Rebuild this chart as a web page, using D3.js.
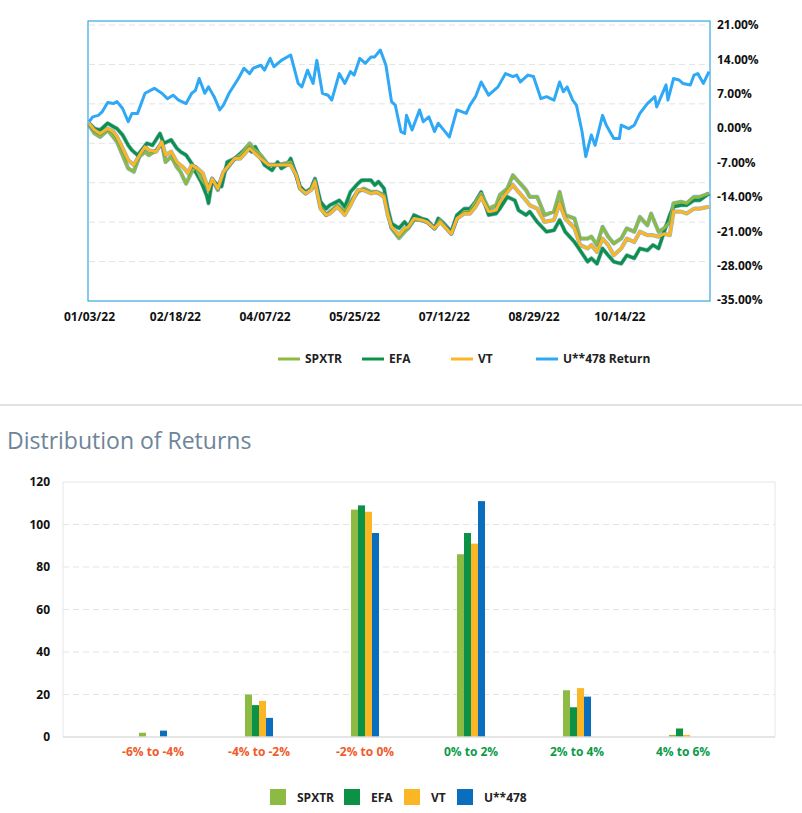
<!DOCTYPE html>
<html><head><meta charset="utf-8">
<script src="https://cdn.jsdelivr.net/npm/d3@7"></script>
<style>body{margin:0;background:#fff;font-family:"Open Sans",sans-serif}</style>
</head><body><svg id="c" width="802" height="813"></svg>
<script>
// ---- line chart data (day offset from 2022-01-03, cumulative return %) ----
const uDays=[0,2,5,7,10,13,15,18,21,23,26,30,35,39,42,45,48,52,55,57,59,62,64,67,70,72,75,80,83,86,88,92,94,97,99,103,108,112,114,117,120,122,125,128,130,134,137,140,142,145,148,151,153,156,159,162,164,167,169,170,173,177,179,182,185,187,190,193,197,202,204,207,210,214,219,223,227,229,231,235,238,242,245,249,252,254,256,259,261,264,266,268,269,271,275,277,281,284,285,289,292,295,299,303,304,309,310,313,316,318,322,324,326,329,332];
const uVals=[1.3,2.3,2.6,3.3,5.2,5.0,5.4,4.0,1.3,3.0,3.0,7.1,8.1,7.1,6.0,6.7,5.7,5.0,7.1,7.7,10.1,7.1,8.4,6.4,3.7,4.7,7.1,10.1,12.2,11.1,12.2,12.8,11.8,14.2,12.5,13.8,14.9,9.1,8.4,11.8,9.1,13.8,7.1,6.7,5.7,11.1,9.1,11.5,10.8,14.2,13.2,14.5,14.5,15.9,12.8,5.4,4.7,-0.7,-1.1,2.6,-0.4,3.7,1.3,2.3,-0.7,1.0,-0.4,-1.8,3.7,3.0,4.7,6.4,9.4,6.7,8.4,11.1,10.5,10.8,9.4,10.8,10.5,6.0,6.4,5.7,9.4,7.4,8.4,5.7,4.7,-0.7,-5.8,-2.8,-1.4,-3.5,2.6,0.6,-2.1,-2.1,0.6,-0.1,0.6,3.0,5.0,6.4,4.3,8.8,5.7,10.1,9.8,9.1,8.8,10.8,11.1,9.1,11.5];
const efaDays=[0,3,6,8,10,13,15,18,21,23,26,29,31,34,38,40,44,47,49,52,55,57,60,63,64,66,69,71,74,78,81,85,87,89,94,98,101,103,106,108,111,113,116,119,121,124,127,129,134,137,140,144,146,151,153,155,158,160,162,166,169,171,174,178,181,185,187,190,194,197,201,204,207,210,214,218,220,224,228,230,234,236,240,245,249,252,255,260,263,267,269,272,275,278,281,285,288,292,295,299,302,305,308,311,313,317,320,324,327,332];
const efaVals=[1.0,-0.1,-0.4,0.3,1.0,0.3,-0.1,-1.4,-3.5,-4.5,-5.5,-4.1,-3.1,-3.5,-1.1,-3.1,-2.4,-4.1,-4.8,-5.5,-7.2,-8.9,-10.9,-13.7,-15.3,-10.6,-11.6,-11.9,-6.9,-6.2,-5.2,-3.8,-4.8,-3.8,-7.5,-8.6,-6.9,-8.2,-7.5,-6.2,-9.6,-11.9,-13.0,-12.3,-10.3,-15.0,-16.4,-15.7,-14.7,-16.0,-13.0,-11.3,-10.6,-10.6,-11.6,-10.9,-12.3,-16.4,-19.4,-20.4,-19.1,-20.1,-17.7,-18.4,-18.7,-20.4,-18.4,-19.4,-21.1,-17.7,-16.4,-16.4,-15.0,-13.0,-17.7,-17.4,-16.4,-14.0,-14.7,-16.7,-17.7,-17.0,-19.1,-21.1,-20.8,-18.7,-21.1,-23.2,-24.9,-27.2,-26.5,-27.6,-24.5,-25.9,-27.2,-27.6,-25.9,-26.5,-24.5,-24.9,-23.8,-24.5,-21.1,-17.7,-16.0,-15.7,-15.7,-14.7,-14.7,-13.3];
const spxDays=[0,3,6,10,13,15,18,21,24,27,30,32,36,39,41,44,47,49,52,55,57,60,64,66,69,72,78,81,86,88,92,96,101,108,111,113,116,119,121,124,127,129,133,137,140,144,147,151,154,158,160,162,166,169,171,174,178,181,185,188,194,197,201,204,207,210,214,218,220,224,227,230,234,236,240,244,249,252,255,260,263,267,269,272,275,278,281,285,288,292,295,299,301,305,308,311,313,317,320,324,327,332];
const spxVals=[0.6,-1.1,-1.8,-0.4,-1.8,-2.8,-5.5,-8.2,-8.9,-5.8,-4.8,-5.5,-4.5,-3.1,-6.9,-5.8,-7.9,-8.9,-11.3,-8.9,-7.9,-10.3,-12.3,-10.3,-12.6,-9.2,-6.2,-5.5,-3.1,-4.1,-5.5,-7.5,-7.5,-6.9,-9.6,-12.3,-13.3,-12.3,-10.6,-16.0,-17.7,-17.0,-15.7,-17.0,-15.0,-13.0,-12.3,-13.0,-13.0,-13.6,-17.0,-20.4,-22.4,-21.1,-20.4,-18.7,-18.7,-19.1,-20.4,-18.7,-21.5,-18.4,-17.0,-17.0,-15.0,-13.3,-16.4,-15.7,-13.6,-12.3,-9.6,-10.9,-12.6,-14.0,-14.0,-17.7,-17.0,-13.0,-17.7,-18.4,-22.5,-22.5,-22.1,-23.8,-20.1,-22.1,-23.5,-22.5,-20.4,-21.1,-18.1,-19.8,-17.4,-21.1,-20.4,-19.1,-15.3,-15.0,-15.3,-14.0,-14.0,-13.3];
const vtDays=[0,3,6,10,13,15,18,21,24,27,30,32,36,39,41,44,47,51,53,55,58,61,64,66,69,72,78,81,86,88,92,96,101,108,111,113,116,119,121,124,127,129,133,137,140,144,147,151,154,158,160,162,166,169,171,174,178,181,185,188,194,197,201,204,207,210,214,218,220,224,227,230,234,236,240,244,249,252,255,260,263,267,269,272,275,278,281,285,288,292,295,299,302,305,308,311,313,317,320,324,327,332];
const vtVals=[1.0,-0.4,-1.1,-0.1,-0.7,-1.8,-4.1,-6.5,-7.5,-5.5,-3.8,-4.5,-4.8,-2.8,-5.5,-4.8,-6.9,-8.2,-9.2,-7.5,-8.2,-9.2,-12.6,-10.3,-12.3,-8.9,-6.2,-6.2,-4.1,-4.8,-6.2,-7.5,-7.5,-7.5,-9.6,-12.3,-13.3,-12.6,-10.9,-16.4,-17.7,-17.4,-16.0,-17.7,-15.7,-12.6,-12.6,-13.3,-13.0,-14.0,-17.7,-20.1,-21.8,-20.4,-20.1,-18.4,-18.7,-19.1,-20.4,-19.1,-21.5,-18.4,-17.4,-17.4,-16.0,-14.0,-17.0,-16.7,-15.0,-13.0,-11.6,-13.0,-14.7,-15.7,-16.4,-19.1,-18.7,-15.3,-18.4,-20.4,-23.8,-24.5,-23.8,-25.2,-22.5,-23.8,-25.9,-24.5,-22.5,-23.2,-21.1,-21.8,-21.8,-22.1,-21.5,-21.8,-17.0,-17.0,-17.4,-16.4,-16.4,-16.0];
const yTicks=[21,14,7,0,-7,-14,-21,-28,-35];
const xTickDates=["2022-01-03","2022-02-18","2022-04-07","2022-05-25","2022-07-12","2022-08-29","2022-10-14"];
const lineNames=["SPXTR","EFA","VT","U**478 Return"];
const lineColors=["#8dba43","#0b9247","#fbb626","#2fa8f6"];
// ---- distribution data ----
const bins=["-6% to -4%","-4% to -2%","-2% to 0%","0% to 2%","2% to 4%","4% to 6%"];
const barNames=["SPXTR","EFA","VT","U**478"];
const barColors=["#8dba43","#0b9247","#fbb626","#0a6ebd"];
const spxCounts=[2,20,107,86,22,1];
const efaCounts=[0,15,109,96,14,4];
const vtCounts=[0,17,106,91,23,1];
const uCounts=[3,9,96,111,19,0];
const barTicks=[0,20,40,60,80,100,120];

const svg=d3.select("#c");
const start=new Date(2022,0,3);
const toDate=d=>d3.timeDay.offset(start,d);
const x=d3.scaleTime().domain([start,toDate(332)]).range([89,709]);
const y=d3.scaleLinear().domain([-35,21]).range([300,25]);
// grid lines
const gy=d3.scaleLinear().domain([0,7]).range([25,301]);
svg.append("g").selectAll("line").data(d3.range(0,7)).join("line")
 .attr("x1",89).attr("x2",709).attr("y1",d=>gy(d)).attr("y2",d=>gy(d))
 .attr("stroke","#e3e3e3").attr("stroke-dasharray","6,4");
svg.append("rect").attr("x",88).attr("y",21).attr("width",622).attr("height",280)
 .attr("fill","none").attr("stroke","#36a9e1").attr("stroke-width",1.2);
const series=[[spxDays,spxVals],[efaDays,efaVals],[vtDays,vtVals],[uDays,uVals]];
const line=d3.line().x(d=>x(d[0])).y(d=>y(d[1]));
const order=[1,0,2,3];
order.forEach(i=>{
 const pts=series[i][0].map((d,k)=>[toDate(d),series[i][1][k]]);
 if(i<3) svg.append("path").attr("d",line(pts)).attr("fill","none").attr("stroke","#1f6fa8").attr("stroke-width",4.2).attr("stroke-linejoin","round").attr("opacity",0.5);
 svg.append("path").attr("d",line(pts)).attr("fill","none").attr("stroke",lineColors[i]).attr("stroke-width",3).attr("stroke-linejoin","round");
});
const yAx=svg.append("g").attr("transform","translate(717,0)")
 .call(d3.axisRight(y).tickValues(yTicks).tickFormat(d=>d.toFixed(2)+"%").tickSize(0));
yAx.select(".domain").remove();
yAx.selectAll("text").attr("x",0).attr("font-size",12).attr("font-weight","bold").attr("fill","#111").attr("font-family","Open Sans");
const xAx=svg.append("g").attr("transform","translate(0,310)")
 .call(d3.axisBottom(x).tickValues(xTickDates.map(s=>d3.timeParse("%Y-%m-%d")(s))).tickFormat(d3.timeFormat("%m/%d/%y")).tickSize(0));
xAx.select(".domain").remove();
xAx.selectAll("text").attr("dy","0.7em").attr("font-size",12).attr("font-weight","bold").attr("fill","#111").attr("font-family","Open Sans");
// top legend
const lx=[278,362,451,536];
lineNames.forEach((n,i)=>{
 svg.append("line").attr("x1",lx[i]).attr("x2",lx[i]+22).attr("y1",359).attr("y2",359).attr("stroke",lineColors[i]).attr("stroke-width",3);
 svg.append("text").attr("x",lx[i]+27).attr("y",363).text(n).attr("font-size",12).attr("font-weight","bold").attr("fill","#222");
});
svg.append("line").attr("x1",0).attr("x2",802).attr("y1",405).attr("y2",405).attr("stroke","#e2e2e2").attr("stroke-width",2);
svg.append("text").attr("x",7).attr("y",449).text("Distribution of Returns").attr("font-size",23).attr("fill","#6d8499").attr("font-family","Open Sans");
// bar chart
const by=d3.scaleLinear().domain([0,120]).range([737,482]);
const bx=d3.scaleBand().domain(bins).range([100,736]);
const inner=d3.scaleBand().domain(barNames).range([0,28]);
svg.append("g").selectAll("line").data(barTicks.slice(1,6)).join("line")
 .attr("x1",63).attr("x2",775).attr("y1",d=>by(d)).attr("y2",d=>by(d)).attr("stroke","#e3e3e3").attr("stroke-dasharray","6,4");
svg.append("line").attr("x1",63).attr("x2",775).attr("y1",by(120)).attr("y2",by(120)).attr("stroke","#e6e6e6");
svg.append("line").attr("x1",775).attr("x2",775).attr("y1",by(120)).attr("y2",by(0)).attr("stroke","#e6e6e6");
svg.append("line").attr("x1",63).attr("x2",63).attr("y1",by(120)).attr("y2",by(0)).attr("stroke","#e6e6e6");
const counts=[spxCounts,efaCounts,vtCounts,uCounts];
counts.forEach((arr,s)=>{
 svg.append("g").selectAll("rect").data(arr).join("rect")
  .attr("x",(d,k)=>bx(bins[k])+bx.bandwidth()/2-14+inner(barNames[s]))
  .attr("width",inner.bandwidth()).attr("y",d=>by(d)).attr("height",d=>by(0)-by(d)).attr("fill",barColors[s]);
});
svg.append("line").attr("x1",63).attr("x2",775).attr("y1",by(0)).attr("y2",by(0)).attr("stroke","#dcdcdc").attr("stroke-width",1.5);
const bY=svg.append("g").attr("transform","translate(50,0)").call(d3.axisLeft(by).tickValues(barTicks).tickSize(0));
bY.select(".domain").remove();
bY.selectAll("text").attr("x",0).attr("font-size",12).attr("font-weight","bold").attr("fill","#111").attr("font-family","Open Sans");
const bX=svg.append("g").attr("transform","translate(0,745)").call(d3.axisBottom(bx).tickSize(0));
bX.select(".domain").remove();
bX.selectAll("text").attr("dy","0.7em").attr("font-size",12).attr("font-weight","bold").attr("font-family","Open Sans")
 .attr("fill",(d,i)=>i<3?"#f15a29":"#0b9a4a");
const blx=[270,344,404,457];
barNames.forEach((n,i)=>{
 svg.append("rect").attr("x",blx[i]).attr("y",789).attr("width",16).attr("height",16).attr("fill",barColors[i]);
 svg.append("text").attr("x",blx[i]+27).attr("y",802).text(n).attr("font-size",12).attr("font-weight","bold").attr("fill","#222");
});
</script></body></html>
